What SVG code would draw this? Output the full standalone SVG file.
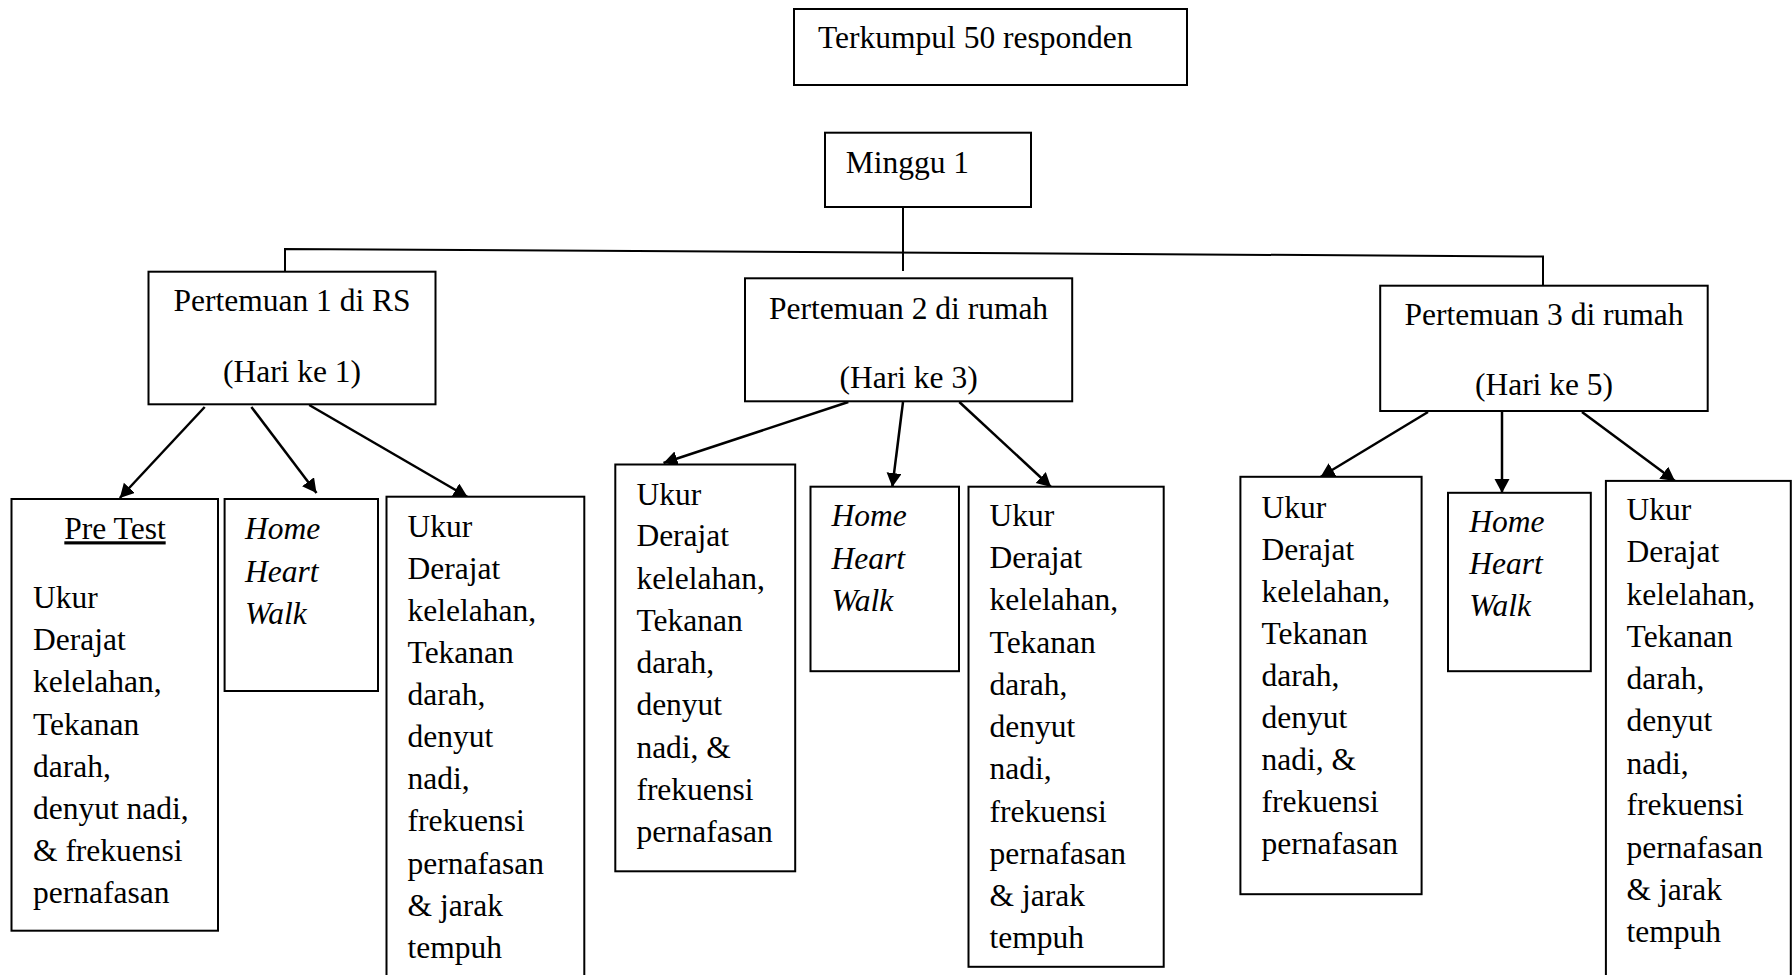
<svg xmlns="http://www.w3.org/2000/svg" width="1792" height="975" viewBox="0 0 1792 975">
<style>
.box{fill:#fff;stroke:#000;stroke-width:2}
.t{font-family:"Liberation Serif","Times New Roman",serif;font-size:31.5px;fill:#000}
.i{font-style:italic}
.c{text-anchor:middle}
.ln{fill:none;stroke:#000;stroke-width:2}
.ar{fill:none;stroke:#000;stroke-width:2.5;marker-end:url(#ah)}
</style>
<defs>
<marker id="ah" markerUnits="userSpaceOnUse" markerWidth="15" markerHeight="16" refX="14" refY="7.5" orient="auto">
<path d="M0,0 L14,7.5 L0,15 z" fill="#000"/>
</marker>
</defs>
<rect width="1792" height="975" fill="#fff"/>
<g id="connectors">
<path class="ln" d="M903,207 V271"/>
<path class="ln" d="M285,271.7 V249 L1543,256.5 V285.7"/>
<line class="ar" x1="204.7" y1="407" x2="119.8" y2="498"/>
<line class="ar" x1="251.4" y1="407" x2="316.5" y2="493"/>
<line class="ar" x1="309.2" y1="405" x2="467.6" y2="497"/>
<line class="ar" x1="848.3" y1="402" x2="663.5" y2="463"/>
<line class="ar" x1="903" y1="402" x2="892.3" y2="487"/>
<line class="ar" x1="959.3" y1="402" x2="1051" y2="487"/>
<line class="ar" x1="1428" y1="412" x2="1320.5" y2="477"/>
<line class="ar" x1="1502" y1="412" x2="1502" y2="493"/>
<line class="ar" x1="1582" y1="412" x2="1675" y2="481"/>
</g>
<g id="terkumpul">
<rect class="box" x="794" y="9" width="393" height="76"/>
<text class="t" x="818" y="48.3">Terkumpul 50 responden</text>
</g>
<g id="minggu1">
<rect class="box" x="825" y="132.7" width="206" height="74.3"/>
<text class="t" x="845.7" y="173.3">Minggu 1</text>
</g>
<g id="pertemuan1">
<rect class="box" x="148.5" y="271.7" width="287" height="132.6"/>
<text class="t c" x="292" y="310.7">Pertemuan 1 di RS</text>
<text class="t c" x="292" y="381.7">(Hari ke 1)</text>
</g>
<g id="pertemuan2">
<rect class="box" x="745" y="278.3" width="327.2" height="123"/>
<text class="t c" x="908.6" y="319">Pertemuan 2 di rumah</text>
<text class="t c" x="908.6" y="388.3">(Hari ke 3)</text>
</g>
<g id="pertemuan3">
<rect class="box" x="1380.2" y="285.7" width="327.5" height="125.3"/>
<text class="t c" x="1544" y="325">Pertemuan 3 di rumah</text>
<text class="t c" x="1544" y="395">(Hari ke 5)</text>
</g>
<g id="pretest">
<rect class="box" x="11.5" y="499" width="206.5" height="431.7"/>
<text class="t c" x="115" y="539.3" text-decoration="underline">Pre Test</text>
<text class="t" x="33" y="607.7">Ukur</text>
<text class="t" x="33" y="650">Derajat</text>
<text class="t" x="33" y="692.3">kelelahan,</text>
<text class="t" x="33" y="734.5">Tekanan</text>
<text class="t" x="33" y="776.7">darah,</text>
<text class="t" x="33" y="819">denyut nadi,</text>
<text class="t" x="33" y="861.2">&amp; frekuensi</text>
<text class="t" x="33" y="903.4">pernafasan</text>
</g>
<g id="hhw1">
<rect class="box" x="224.6" y="499" width="153.4" height="192"/>
<text class="t i" x="245" y="539.3">Home</text>
<text class="t i" x="245" y="581.5">Heart</text>
<text class="t i" x="245" y="623.7">Walk</text>
</g>
<g id="ukur1">
<rect class="box" x="386.5" y="496.7" width="197.8" height="490"/>
<text class="t" x="407.6" y="536.7">Ukur</text>
<text class="t" x="407.6" y="578.6">Derajat</text>
<text class="t" x="407.6" y="620.5">kelelahan,</text>
<text class="t" x="407.6" y="662.7">Tekanan</text>
<text class="t" x="407.6" y="704.8">darah,</text>
<text class="t" x="407.6" y="746.8">denyut</text>
<text class="t" x="407.6" y="788.8">nadi,</text>
<text class="t" x="407.6" y="831.2">frekuensi</text>
<text class="t" x="407.6" y="873.8">pernafasan</text>
<text class="t" x="407.6" y="916.2">&amp; jarak</text>
<text class="t" x="407.6" y="958.3">tempuh</text>
</g>
<g id="ukur2a">
<rect class="box" x="615.3" y="464.5" width="179.9" height="406.8"/>
<text class="t" x="636.4" y="504.8">Ukur</text>
<text class="t" x="636.4" y="546.4">Derajat</text>
<text class="t" x="636.4" y="588.5">kelelahan,</text>
<text class="t" x="636.4" y="630.8">Tekanan</text>
<text class="t" x="636.4" y="673.2">darah,</text>
<text class="t" x="636.4" y="715.4">denyut</text>
<text class="t" x="636.4" y="757.6">nadi, &amp;</text>
<text class="t" x="636.4" y="799.8">frekuensi</text>
<text class="t" x="636.4" y="842">pernafasan</text>
</g>
<g id="hhw2">
<rect class="box" x="810.5" y="486.7" width="148.5" height="184.5"/>
<text class="t i" x="831.5" y="526.3">Home</text>
<text class="t i" x="831.5" y="568.5">Heart</text>
<text class="t i" x="831.5" y="610.7">Walk</text>
</g>
<g id="ukur2b">
<rect class="box" x="968.5" y="486.7" width="195.2" height="480.1"/>
<text class="t" x="989.6" y="526.3">Ukur</text>
<text class="t" x="989.6" y="568.2">Derajat</text>
<text class="t" x="989.6" y="610.4">kelelahan,</text>
<text class="t" x="989.6" y="652.8">Tekanan</text>
<text class="t" x="989.6" y="695">darah,</text>
<text class="t" x="989.6" y="737">denyut</text>
<text class="t" x="989.6" y="779.3">nadi,</text>
<text class="t" x="989.6" y="821.5">frekuensi</text>
<text class="t" x="989.6" y="864">pernafasan</text>
<text class="t" x="989.6" y="906.2">&amp; jarak</text>
<text class="t" x="989.6" y="948.2">tempuh</text>
</g>
<g id="ukur3a">
<rect class="box" x="1240.4" y="476.8" width="181.2" height="417.4"/>
<text class="t" x="1261.5" y="517.7">Ukur</text>
<text class="t" x="1261.5" y="559.5">Derajat</text>
<text class="t" x="1261.5" y="601.7">kelelahan,</text>
<text class="t" x="1261.5" y="643.9">Tekanan</text>
<text class="t" x="1261.5" y="685.8">darah,</text>
<text class="t" x="1261.5" y="728">denyut</text>
<text class="t" x="1261.5" y="770">nadi, &amp;</text>
<text class="t" x="1261.5" y="812">frekuensi</text>
<text class="t" x="1261.5" y="854.3">pernafasan</text>
</g>
<g id="hhw3">
<rect class="box" x="1448" y="492.8" width="142.8" height="178.4"/>
<text class="t i" x="1469.2" y="532">Home</text>
<text class="t i" x="1469.2" y="574">Heart</text>
<text class="t i" x="1469.2" y="615.8">Walk</text>
</g>
<g id="ukur3b">
<rect class="box" x="1605.9" y="480.9" width="184.9" height="510"/>
<text class="t" x="1626.6" y="520.1">Ukur</text>
<text class="t" x="1626.6" y="562">Derajat</text>
<text class="t" x="1626.6" y="605">kelelahan,</text>
<text class="t" x="1626.6" y="646.5">Tekanan</text>
<text class="t" x="1626.6" y="688.8">darah,</text>
<text class="t" x="1626.6" y="731.3">denyut</text>
<text class="t" x="1626.6" y="773.5">nadi,</text>
<text class="t" x="1626.6" y="815.3">frekuensi</text>
<text class="t" x="1626.6" y="857.7">pernafasan</text>
<text class="t" x="1626.6" y="900">&amp; jarak</text>
<text class="t" x="1626.6" y="942">tempuh</text>
</g>
</svg>
